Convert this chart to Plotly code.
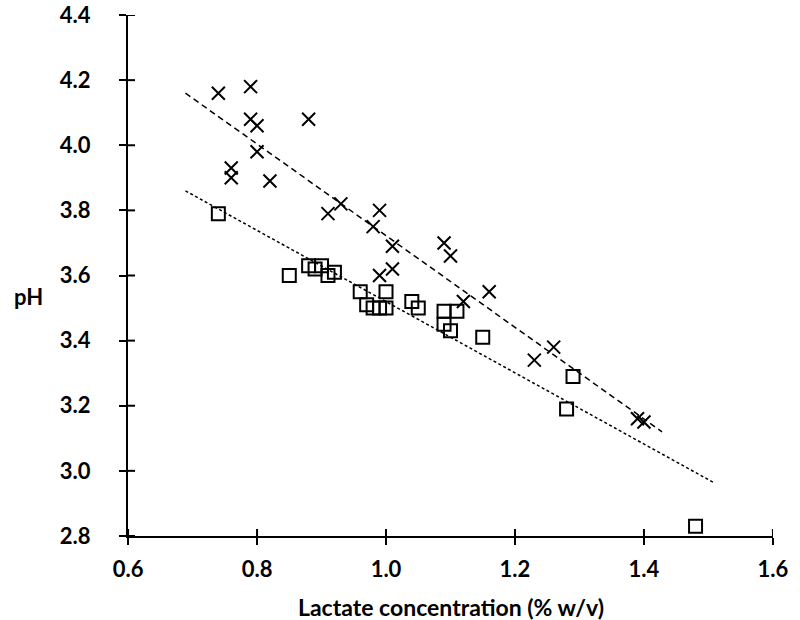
import plotly.graph_objects as go

# Crosses series
cross_x = [0.74, 0.79, 0.79, 0.80, 0.88, 0.80, 0.76, 0.76, 0.82, 0.93, 0.91, 0.99,
           0.98, 1.01, 0.99, 1.01, 1.09, 1.10, 1.12, 1.16, 1.26, 1.23, 1.39, 1.40]
cross_y = [4.16, 4.18, 4.08, 4.06, 4.08, 3.98, 3.93, 3.90, 3.89, 3.82, 3.79, 3.80,
           3.75, 3.69, 3.60, 3.62, 3.70, 3.66, 3.52, 3.55, 3.38, 3.34, 3.16, 3.15]

# Squares series
square_x = [0.74, 0.85, 0.88, 0.89, 0.90, 0.91, 0.92, 0.96, 0.97, 0.98, 0.99, 1.00,
            1.00, 1.04, 1.05, 1.09, 1.09, 1.10, 1.11, 1.15, 1.29, 1.28, 1.48]
square_y = [3.79, 3.60, 3.63, 3.62, 3.63, 3.60, 3.61, 3.55, 3.51, 3.50, 3.50, 3.50,
            3.55, 3.52, 3.50, 3.49, 3.45, 3.43, 3.49, 3.41, 3.29, 3.19, 2.83]

# Trend lines (endpoints)
trend_cross_x = [0.689, 1.428]
trend_cross_y = [4.16, 3.12]
trend_square_x = [0.689, 1.51]
trend_square_y = [3.86, 2.962]

# Tick values
x_ticks = [0.6, 0.8, 1.0, 1.2, 1.4, 1.6]
y_ticks = [2.8, 3.0, 3.2, 3.4, 3.6, 3.8, 4.0, 4.2, 4.4]
x_range = [0.5999, 1.6001]
y_range = [2.7999, 4.4001]

fig = go.Figure()

fig.add_trace(go.Scatter(x=trend_cross_x, y=trend_cross_y, mode="lines",
                         line=dict(color="black", width=1.5, dash="6px,4px"),
                         showlegend=False, hoverinfo="skip"))
fig.add_trace(go.Scatter(x=trend_square_x, y=trend_square_y, mode="lines",
                         line=dict(color="black", width=1.5, dash="3px,2.5px"),
                         showlegend=False, hoverinfo="skip"))
fig.add_trace(go.Scatter(x=cross_x, y=cross_y, mode="markers",
                         marker=dict(symbol="x-thin-open", size=13, color="black",
                                     line=dict(width=2, color="black")),
                         showlegend=False))
fig.add_trace(go.Scatter(x=square_x, y=square_y, mode="markers",
                         marker=dict(symbol="square-open", size=13, color="black",
                                     line=dict(width=2, color="black")),
                         showlegend=False))

tfont = dict(family="Lato", size=22, color="black", weight="bold")
titlefont = dict(family="Lato", size=23, color="black", weight="bold")

# inner halves of the crossing tick marks
shapes = []
for v in x_ticks:
    shapes.append(dict(type="line", xref="x", yref="y domain", ysizemode="pixel",
                       yanchor=0, x0=v, x1=v, y0=0, y1=7,
                       line=dict(color="black", width=2)))
for v in y_ticks:
    shapes.append(dict(type="line", yref="y", xref="x domain", xsizemode="pixel",
                       xanchor=0, y0=v, y1=v, x0=0, x1=7,
                       line=dict(color="black", width=2)))

fig.update_layout(
    template="none",
    width=800, height=620,
    margin=dict(l=127.5, r=27.3, t=15, b=84, autoexpand=False),
    paper_bgcolor="white", plot_bgcolor="white",
    xaxis=dict(range=x_range, tickvals=x_ticks, tickformat=".1f", automargin=False,
               showgrid=False, zeroline=False, showline=True, linecolor="black",
               linewidth=2, ticks="outside", ticklen=7, tickwidth=2, tickcolor="black",
               tickfont=tfont, ticklabelstandoff=6, ticklabeloverflow="allow"),
    yaxis=dict(range=y_range, tickvals=y_ticks, tickformat=".1f", automargin=False,
               showgrid=False, zeroline=False, showline=True, linecolor="black",
               linewidth=2, ticks="outside", ticklen=7, tickwidth=2, tickcolor="black",
               tickfont=tfont, ticklabelstandoff=24, ticklabeloverflow="allow"),
    shapes=shapes,
    annotations=[
        dict(text="pH", xref="paper", yref="paper", x=-0.128, y=0.46,
             xanchor="right", yanchor="middle", showarrow=False, font=tfont),
        dict(text="Lactate concentration (% w/v)", xref="paper", yref="paper",
             x=0.5, y=-0.1363, xanchor="center", yanchor="middle", showarrow=False,
             font=titlefont),
    ],
)

fig.write_html("out.html", config={"displayModeBar": False},
               post_script="document.body.style.margin='0';document.body.style.overflow='hidden';")
